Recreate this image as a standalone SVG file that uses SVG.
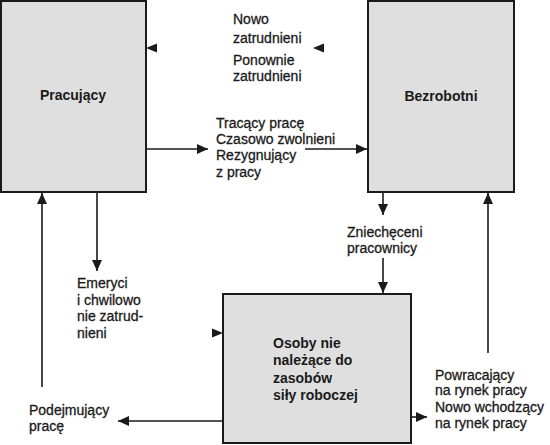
<svg xmlns="http://www.w3.org/2000/svg" width="550" height="445" viewBox="0 0 550 445">
<style>
.box{fill:#dfdfdf;stroke:#1a1a1a;stroke-width:2}
.t{font-family:"Liberation Sans",Arial,sans-serif;font-size:14px;fill:#1a1a1a;stroke:#1a1a1a;stroke-width:0.3}
.b{font-family:"Liberation Sans",Arial,sans-serif;font-size:14px;font-weight:bold;fill:#1a1a1a}
.ln{stroke:#1a1a1a;stroke-width:1.6;fill:none}
.ah{fill:#1a1a1a}
</style>
<defs>
<marker id="arr" markerUnits="userSpaceOnUse" markerWidth="12" markerHeight="10" refX="11" refY="5" orient="auto">
<path d="M0,0 L11,5 L0,10 Z" fill="#1a1a1a"/>
</marker>
</defs>
<rect width="550" height="445" fill="#ffffff"/>
<g id="pracujacy">
<rect class="box" x="1" y="1" width="145" height="191"/>
<text class="b" x="73" y="100" text-anchor="middle">Pracujący</text>
</g>
<g id="bezrobotni">
<rect class="box" x="368" y="1" width="146" height="191"/>
<text class="b" x="441" y="101" text-anchor="middle">Bezrobotni</text>
</g>
<g id="osoby">
<rect class="box" x="223" y="294" width="188" height="149"/>
<text class="b" x="273" y="348">Osoby nie</text>
<text class="b" x="273" y="365">należące do</text>
<text class="b" x="273" y="383">zasobów</text>
<text class="b" x="273" y="400">siły roboczej</text>
</g>
<g id="connectors">
<path class="ah" d="M146,48 L157,43.5 L157,52.5 Z"/>
<path class="ah" d="M313,48 L324,43.5 L324,52.5 Z"/>
<line class="ln" x1="147" y1="149" x2="208" y2="149" marker-end="url(#arr)"/>
<line class="ln" x1="305" y1="149" x2="367" y2="149" marker-end="url(#arr)"/>
<line class="ln" x1="97" y1="193" x2="97" y2="271" marker-end="url(#arr)" stroke-width="2"/>
<line class="ln" x1="42" y1="387" x2="42" y2="193" marker-end="url(#arr)"/>
<path class="ah" d="M223,333 L212,328.5 L212,337.5 Z"/>
<line class="ln" x1="222" y1="421" x2="118" y2="421" marker-end="url(#arr)"/>
<line class="ln" x1="383" y1="193" x2="383" y2="215" marker-end="url(#arr)" stroke-width="2"/>
<line class="ln" x1="383" y1="258" x2="383" y2="293" marker-end="url(#arr)" stroke-width="2"/>
<line class="ln" x1="488" y1="353" x2="488" y2="193" marker-end="url(#arr)"/>
<line class="ln" x1="412" y1="417" x2="427" y2="417" marker-end="url(#arr)"/>
</g>
<g id="labels">
<text class="t" x="233" y="24">Nowo</text>
<text class="t" x="233" y="43">zatrudnieni</text>
<text class="t" x="233" y="65">Ponownie</text>
<text class="t" x="233" y="81">zatrudnieni</text>
<text class="t" x="216" y="128">Tracący pracę</text>
<text class="t" x="216" y="144">Czasowo zwolnieni</text>
<text class="t" x="216" y="160">Rezygnujący</text>
<text class="t" x="216" y="177">z pracy</text>
<text class="t" x="77" y="288">Emeryci</text>
<text class="t" x="77" y="305">i chwilowo</text>
<text class="t" x="77" y="321">nie zatrud-</text>
<text class="t" x="77" y="338">nieni</text>
<text class="t" x="29" y="415">Podejmujący</text>
<text class="t" x="29" y="431">pracę</text>
<text class="t" x="347" y="237">Zniechęceni</text>
<text class="t" x="347" y="253">pracownicy</text>
<text class="t" x="435" y="380">Powracający</text>
<text class="t" x="435" y="395">na rynek pracy</text>
<text class="t" x="435" y="412">Nowo wchodzący</text>
<text class="t" x="435" y="428">na rynek pracy</text>
</g>
</svg>
